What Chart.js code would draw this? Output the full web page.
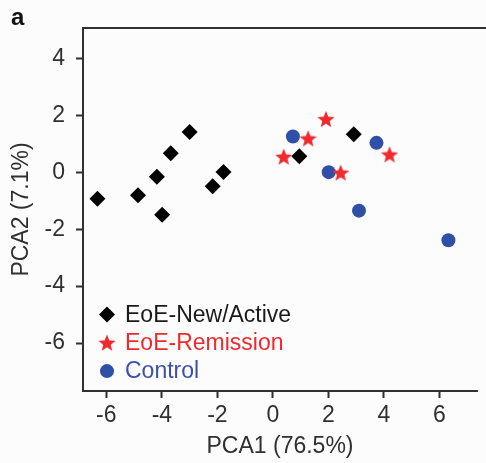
<!DOCTYPE html>
<html>
<head>
<meta charset="utf-8">
<script src="https://cdn.jsdelivr.net/npm/chart.js@4/dist/chart.umd.min.js"></script>
<style>
  html, body { margin: 0; padding: 0; background: #fcfcfd; }
  #wrap { width: 486px; height: 463px; position: relative; }
</style>
</head>
<body>
<div id="wrap"><canvas id="c"></canvas></div>
<script>
// ---- Data ----
const seriesLabels = ['EoE-New/Active', 'EoE-Remission', 'Control'];
const newActiveX = [-6.32, -4.86, -4.18, -3.99, -3.68, -3.00, -2.17, -1.78, 0.95, 2.91];
const newActiveY = [-0.93, -0.81, -0.16, -1.49, 0.66, 1.41, -0.49, 0.01, 0.56, 1.33];
const remissionX = [0.39, 1.27, 1.91, 2.44, 4.20];
const remissionY = [0.54, 1.18, 1.86, -0.02, 0.62];
const controlX = [0.72, 2.01, 3.73, 3.10, 6.32];
const controlY = [1.25, 0.00, 1.03, -1.35, -2.39];
const xTicks = [-6, -4, -2, 0, 2, 4, 6];
const yTicks = [4, 2, 0, -2, -4, -6];
const xTitle = 'PCA1 (76.5%)';
const yTitle = 'PCA2 (7.1%)';
const panelLabel = 'a';

// ---- Styles ----
const FONT = '"Liberation Sans", Arial, Helvetica, sans-serif';
const AXIS_COLOR = '#303030';
const TEXT_COLOR = '#303030';
const BLACK = '#000000';
const RED = '#ee2a2e';
const BLUE = '#3050a8';
const legendTextColors = ['#1a1a1a', '#ee2a2e', '#3a50ae'];

function makeStar(color, outer, inner) {
  const size = Math.ceil(outer * 2 + 2);
  const cv = document.createElement('canvas');
  cv.width = size; cv.height = size;
  const g = cv.getContext('2d');
  const cx = size / 2, cy = size / 2 + outer * 0.08;
  g.beginPath();
  for (let i = 0; i < 10; i++) {
    const r = i % 2 === 0 ? outer : inner;
    const a = -Math.PI / 2 + i * Math.PI / 5;
    const px = cx + r * Math.cos(a), py = cy + r * Math.sin(a);
    if (i === 0) g.moveTo(px, py); else g.lineTo(px, py);
  }
  g.closePath();
  g.fillStyle = color;
  g.fill();
  return cv;
}
const starImg = makeStar(RED, 9, 3.9);

const toPts = (xs, ys) => xs.map((x, i) => ({ x: x, y: ys[i] }));

const bgPlugin = {
  id: 'bg',
  beforeDraw(chart) {
    const ctx = chart.ctx;
    ctx.save();
    ctx.fillStyle = '#fcfcfd';
    ctx.fillRect(0, 0, chart.width, chart.height);
    ctx.restore();
  }
};

const framePlugin = {
  id: 'frame',
  afterDraw(chart) {
    const { ctx, chartArea } = chart;
    ctx.save();
    // top border of the box
    ctx.strokeStyle = AXIS_COLOR;
    ctx.lineWidth = 2;
    ctx.beginPath();
    ctx.moveTo(chartArea.left - 1, chartArea.top);
    ctx.lineTo(chart.width, chartArea.top);
    ctx.stroke();
    // panel label
    ctx.fillStyle = '#111111';
    ctx.font = 'bold 24px ' + FONT;
    ctx.textBaseline = 'alphabetic';
    ctx.textAlign = 'left';
    ctx.fillText(panelLabel, 11, 25);
    // legend inside the plot area, bottom-left
    const lx = chartArea.left + 24;
    const tx = chartArea.left + 42;
    const y0 = chartArea.bottom - 76.5;
    const step = 28.3;
    ctx.font = '23px ' + FONT;
    ctx.textBaseline = 'middle';
    chart.data.datasets.forEach((ds, i) => {
      const y = y0 + i * step;
      if (ds.pointStyle === 'rectRot') {
        const r = 8;
        ctx.fillStyle = ds.backgroundColor;
        ctx.beginPath();
        ctx.moveTo(lx, y - r); ctx.lineTo(lx + r, y); ctx.lineTo(lx, y + r); ctx.lineTo(lx - r, y);
        ctx.closePath(); ctx.fill();
      } else if (ds.pointStyle === 'circle') {
        ctx.fillStyle = ds.backgroundColor;
        ctx.beginPath(); ctx.arc(lx, y, 7, 0, Math.PI * 2); ctx.fill();
      } else {
        const img = ds.pointStyle;
        ctx.drawImage(img, lx - img.width / 2, y - img.height / 2);
      }
      ctx.fillStyle = legendTextColors[i];
      ctx.fillText(ds.label, tx, y + 1);
    });
    ctx.restore();
  }
};

new Chart(document.getElementById('c'), {
  type: 'scatter',
  data: {
    datasets: [
      { label: seriesLabels[0], data: toPts(newActiveX, newActiveY), pointStyle: 'rectRot',
        pointRadius: 8, pointHoverRadius: 8, backgroundColor: BLACK, borderWidth: 0, order: 1 },
      { label: seriesLabels[1], data: toPts(remissionX, remissionY), pointStyle: starImg,
        pointRadius: 9, backgroundColor: RED, borderWidth: 0, order: 2 },
      { label: seriesLabels[2], data: toPts(controlX, controlY), pointStyle: 'circle',
        pointRadius: 7, pointHoverRadius: 7, backgroundColor: BLUE, borderWidth: 0, order: 3 }
    ]
  },
  options: {
    responsive: true,
    maintainAspectRatio: false,
    animation: false,
    layout: { padding: { top: 28, left: 0, right: 0, bottom: 0 } },
    plugins: { legend: { display: false }, tooltip: { enabled: false }, title: { display: false } },
    scales: {
      x: {
        type: 'linear', min: -6.84, max: 7.35,
        afterBuildTicks: s => { s.ticks = xTicks.map(v => ({ value: v })); },
        afterFit: s => { s.height = 72; },
        ticks: { color: TEXT_COLOR, font: { family: FONT, size: 23 }, padding: 4, maxRotation: 0,
                 callback: v => String(v) },
        grid: { display: true, drawOnChartArea: false, drawTicks: true, tickLength: 7, tickWidth: 2, tickColor: AXIS_COLOR },
        border: { display: true, width: 2, color: AXIS_COLOR },
        title: { display: true, text: xTitle, color: TEXT_COLOR, font: { family: FONT, size: 23 }, padding: { top: 0, bottom: 3 } }
      },
      y: {
        type: 'linear', min: -7.68, max: 5.06,
        afterBuildTicks: s => { s.ticks = yTicks.map(v => ({ value: v })); },
        afterFit: s => { s.width = 83; },
        ticks: { color: TEXT_COLOR, font: { family: FONT, size: 23 }, padding: 11,
                 callback: v => String(v) },
        grid: { display: true, drawOnChartArea: false, drawTicks: true, tickLength: 7, tickWidth: 2, tickColor: AXIS_COLOR },
        border: { display: true, width: 2, color: AXIS_COLOR },
        title: { display: true, text: yTitle, color: TEXT_COLOR, font: { family: FONT, size: 23 }, padding: { top: 8, bottom: 0 } }
      }
    }
  },
  plugins: [bgPlugin, framePlugin]
});
</script>
</body>
</html>
